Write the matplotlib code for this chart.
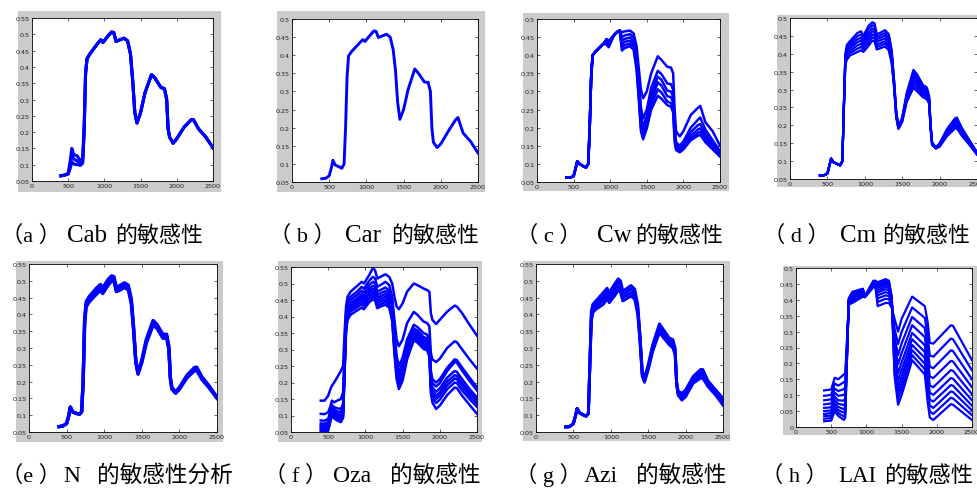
import numpy as np
import matplotlib
matplotlib.use("Agg")
import matplotlib.pyplot as plt
from matplotlib.patches import Rectangle
from matplotlib.ticker import FormatStrFormatter

plt.rcParams['font.family'] = ['Liberation Serif', 'Noto Sans CJK SC']

W, H = 977, 489

# wavelength knots (nm) shared by panels a-g
wl = [400, 450, 500, 530, 550, 580, 620, 670, 700, 720,
      740, 760, 800, 900, 950, 980, 1050, 1100, 1130,
      1160, 1200, 1270, 1320, 1360, 1390, 1420, 1450, 1500, 1560,
      1650, 1700, 1780, 1830, 1860, 1880, 1900, 1950, 2000, 2100,
      2200, 2230, 2300, 2400, 2500]

# (a) Cab: curves differ only in the visible part
cab_refl = [0.066, 0.068, [0.074, 0.072, 0.071], [0.115, 0.100, 0.090],
            [0.150, 0.128, 0.108], [0.130, 0.117, 0.102], [0.128, 0.112, 0.100],
            [0.112, 0.102, 0.098], [0.120, 0.110, 0.105], [0.220, 0.205, 0.195],
            0.380, 0.425, 0.440, 0.470, 0.483, 0.475, 0.495, 0.507, 0.505,
            0.478, 0.482, 0.488, 0.480, 0.440, 0.360, 0.260, 0.228, 0.260, 0.320,
            0.376, 0.365, 0.337, 0.333, 0.300, 0.210, 0.185, 0.166, 0.180, 0.215,
            0.238, 0.238, 0.210, 0.185, 0.152]

# (b) Car
car_refl = [0.059, 0.060, 0.067, 0.090, 0.110, 0.097, 0.093, 0.088, 0.100, 0.200,
            0.340, 0.398, 0.410, 0.432, 0.443, 0.438, 0.455, 0.467, 0.466,
            0.449, 0.452, 0.458, 0.450, 0.415, 0.360, 0.270, 0.223, 0.250, 0.305,
            0.362, 0.350, 0.326, 0.325, 0.300, 0.200, 0.160, 0.145, 0.155, 0.190,
            0.222, 0.228, 0.185, 0.162, 0.130]

# (c) Cw
cw_refl = [0.062, 0.062, 0.066, 0.090, 0.107, 0.100, 0.095, 0.090, 0.100, 0.200,
           0.340, 0.400, 0.410, 0.430,
           [0.445, 0.442, 0.440, 0.437, 0.434, 0.430],
           [0.440, 0.436, 0.432, 0.428, 0.425, 0.422],
           0.455, 0.465, 0.468,
           [0.463, 0.450, 0.440, 0.430, 0.422, 0.413],
           [0.466, 0.455, 0.445, 0.437, 0.428, 0.420],
           [0.468, 0.458, 0.449, 0.440, 0.432, 0.425],
           [0.460, 0.450, 0.440, 0.432, 0.424, 0.415],
           [0.425, 0.405, 0.392, 0.380, 0.370, 0.360],
           [0.365, 0.335, 0.315, 0.300, 0.290, 0.280],
           [0.305, 0.255, 0.230, 0.213, 0.200, 0.190],
           [0.281, 0.225, 0.205, 0.190, 0.178, 0.168],
           [0.300, 0.250, 0.232, 0.220, 0.208, 0.198],
           [0.350, 0.310, 0.290, 0.275, 0.262, 0.250],
           [0.397, 0.357, 0.341, 0.325, 0.306, 0.288],
           [0.387, 0.348, 0.332, 0.316, 0.297, 0.280],
           [0.368, 0.322, 0.302, 0.287, 0.272, 0.262],
           [0.366, 0.320, 0.300, 0.284, 0.268, 0.258],
           [0.350, 0.305, 0.285, 0.270, 0.255, 0.242],
           [0.250, 0.210, 0.195, 0.182, 0.172, 0.162],
           [0.190, 0.160, 0.152, 0.146, 0.142, 0.138],
           [0.176, 0.150, 0.143, 0.138, 0.135, 0.132],
           [0.190, 0.162, 0.155, 0.148, 0.144, 0.140],
           [0.235, 0.200, 0.188, 0.178, 0.170, 0.165],
           [0.255, 0.222, 0.207, 0.195, 0.186, 0.178],
           [0.260, 0.228, 0.210, 0.198, 0.188, 0.180],
           [0.215, 0.195, 0.183, 0.175, 0.167, 0.160],
           [0.190, 0.165, 0.155, 0.148, 0.143, 0.140],
           [0.150, 0.135, 0.128, 0.125, 0.122, 0.120]]

# (d) Cm
cm_refl = [0.060, 0.060, 0.065, 0.090, 0.107, 0.097, 0.093, 0.088, 0.100, 0.250,
           [0.400, 0.395, 0.390, 0.385, 0.380, 0.375, 0.370],
           [0.425, 0.418, 0.411, 0.404, 0.397, 0.390, 0.383],
           [0.435, 0.428, 0.422, 0.415, 0.408, 0.402, 0.395],
           [0.458, 0.449, 0.440, 0.432, 0.423, 0.414, 0.405],
           [0.463, 0.454, 0.445, 0.437, 0.428, 0.419, 0.410],
           [0.450, 0.443, 0.435, 0.428, 0.420, 0.413, 0.405],
           [0.478, 0.469, 0.459, 0.450, 0.441, 0.431, 0.422],
           [0.488, 0.480, 0.471, 0.463, 0.454, 0.446, 0.437],
           [0.485, 0.477, 0.468, 0.460, 0.452, 0.443, 0.435],
           [0.455, 0.448, 0.441, 0.434, 0.426, 0.419, 0.412],
           [0.458, 0.451, 0.444, 0.437, 0.429, 0.422, 0.415],
           [0.466, 0.458, 0.451, 0.443, 0.435, 0.428, 0.420],
           [0.455, 0.448, 0.440, 0.433, 0.425, 0.418, 0.410],
           [0.410, 0.404, 0.397, 0.391, 0.385, 0.378, 0.372],
           [0.330, 0.327, 0.323, 0.320, 0.317, 0.313, 0.310],
           [0.240, 0.237, 0.234, 0.231, 0.228, 0.225, 0.222],
           [0.196, 0.195, 0.194, 0.193, 0.192, 0.191, 0.190],
           [0.222, 0.220, 0.218, 0.216, 0.214, 0.212, 0.210],
           [0.290, 0.286, 0.282, 0.278, 0.273, 0.269, 0.265],
           [0.355, 0.347, 0.338, 0.330, 0.322, 0.313, 0.305],
           [0.342, 0.334, 0.326, 0.319, 0.311, 0.303, 0.295],
           [0.312, 0.306, 0.301, 0.295, 0.289, 0.284, 0.278],
           [0.306, 0.301, 0.295, 0.290, 0.284, 0.279, 0.273],
           [0.282, 0.278, 0.275, 0.271, 0.267, 0.264, 0.260],
           [0.200, 0.198, 0.197, 0.195, 0.193, 0.192, 0.190],
           [0.152, 0.151, 0.150, 0.149, 0.147, 0.146, 0.145],
           [0.138, 0.138, 0.137, 0.137, 0.136, 0.136, 0.135],
           [0.150, 0.148, 0.147, 0.145, 0.143, 0.142, 0.140],
           [0.190, 0.187, 0.183, 0.180, 0.177, 0.173, 0.170],
           [0.218, 0.213, 0.209, 0.204, 0.199, 0.195, 0.190],
           [0.222, 0.217, 0.212, 0.207, 0.202, 0.197, 0.192],
           [0.192, 0.188, 0.185, 0.181, 0.177, 0.174, 0.170],
           [0.158, 0.156, 0.154, 0.152, 0.149, 0.147, 0.145],
           [0.125, 0.124, 0.123, 0.122, 0.120, 0.119, 0.118]]

# (e) N
n_refl = [0.066, 0.068, 0.075, 0.100, 0.124, 0.110, 0.106, 0.103, 0.110, 0.200,
          [0.388, 0.380, 0.372], [0.438, 0.430, 0.422], [0.453, 0.445, 0.437],
          [0.479, 0.470, 0.461], [0.489, 0.480, 0.471], [0.478, 0.470, 0.462],
          [0.504, 0.495, 0.486], [0.515, 0.508, 0.500], [0.512, 0.505, 0.498],
          [0.482, 0.475, 0.468], [0.485, 0.478, 0.471], [0.494, 0.487, 0.480],
          [0.487, 0.480, 0.473], [0.447, 0.440, 0.433], [0.366, 0.360, 0.354],
          [0.264, 0.260, 0.256], [0.228, 0.225, 0.222], [0.264, 0.260, 0.256],
          [0.326, 0.320, 0.314], [0.382, 0.375, 0.368], [0.371, 0.365, 0.359],
          [0.341, 0.335, 0.329], [0.341, 0.335, 0.329], [0.305, 0.300, 0.295],
          [0.213, 0.210, 0.207], [0.183, 0.180, 0.177], [0.169, 0.167, 0.165],
          [0.183, 0.180, 0.177], [0.219, 0.215, 0.211], [0.242, 0.237, 0.232],
          [0.243, 0.238, 0.233], [0.214, 0.210, 0.206], [0.186, 0.183, 0.180],
          [0.154, 0.152, 0.150]]

# (f) Oza
oza_refl = [[0.145, 0.105, 0.085, 0.076, 0.070, 0.065, 0.060, 0.055, 0.050],
            [0.145, 0.104, 0.084, 0.075, 0.069, 0.064, 0.059, 0.054, 0.050],
            [0.160, 0.110, 0.090, 0.080, 0.074, 0.068, 0.063, 0.058, 0.054],
            [0.180, 0.128, 0.115, 0.108, 0.102, 0.097, 0.092, 0.087, 0.082],
            [0.190, 0.145, 0.132, 0.126, 0.120, 0.115, 0.110, 0.105, 0.100],
            [0.200, 0.140, 0.125, 0.117, 0.111, 0.106, 0.101, 0.096, 0.091],
            [0.215, 0.145, 0.122, 0.113, 0.106, 0.100, 0.095, 0.090, 0.085],
            [0.235, 0.150, 0.120, 0.110, 0.101, 0.095, 0.090, 0.085, 0.080],
            [0.250, 0.170, 0.135, 0.125, 0.115, 0.108, 0.103, 0.098, 0.093],
            [0.350, 0.300, 0.270, 0.260, 0.250, 0.245, 0.240, 0.235, 0.230],
            [0.430, 0.415, 0.395, 0.385, 0.378, 0.372, 0.366, 0.360, 0.355],
            [0.460, 0.447, 0.435, 0.425, 0.417, 0.410, 0.403, 0.396, 0.390],
            [0.475, 0.460, 0.450, 0.440, 0.435, 0.430, 0.422, 0.415, 0.405],
            [0.495, 0.478, 0.468, 0.458, 0.452, 0.446, 0.438, 0.430, 0.420],
            [0.505, 0.490, 0.478, 0.468, 0.460, 0.453, 0.445, 0.437, 0.427],
            [0.500, 0.484, 0.472, 0.462, 0.455, 0.448, 0.440, 0.432, 0.422],
            [0.525, 0.508, 0.495, 0.485, 0.477, 0.469, 0.460, 0.452, 0.443],
            [0.547, 0.520, 0.505, 0.493, 0.484, 0.476, 0.468, 0.460, 0.452],
            [0.540, 0.515, 0.500, 0.489, 0.480, 0.472, 0.464, 0.456, 0.448],
            [0.515, 0.490, 0.475, 0.465, 0.456, 0.448, 0.440, 0.432, 0.425],
            [0.520, 0.495, 0.480, 0.470, 0.461, 0.453, 0.445, 0.437, 0.430],
            [0.528, 0.505, 0.488, 0.477, 0.468, 0.460, 0.452, 0.444, 0.436],
            [0.520, 0.495, 0.478, 0.468, 0.459, 0.451, 0.443, 0.435, 0.427],
            [0.500, 0.460, 0.440, 0.428, 0.418, 0.410, 0.402, 0.394, 0.386],
            [0.460, 0.390, 0.355, 0.340, 0.328, 0.318, 0.308, 0.298, 0.288],
            [0.430, 0.330, 0.280, 0.262, 0.250, 0.240, 0.230, 0.220, 0.210],
            [0.422, 0.310, 0.250, 0.232, 0.220, 0.210, 0.200, 0.190, 0.180],
            [0.440, 0.330, 0.275, 0.258, 0.246, 0.236, 0.226, 0.216, 0.206],
            [0.475, 0.380, 0.330, 0.315, 0.305, 0.296, 0.287, 0.278, 0.270],
            [0.500, 0.414, 0.375, 0.364, 0.356, 0.349, 0.342, 0.335, 0.328],
            [0.495, 0.405, 0.368, 0.357, 0.349, 0.342, 0.335, 0.328, 0.321],
            [0.485, 0.385, 0.350, 0.338, 0.330, 0.323, 0.316, 0.309, 0.302],
            [0.480, 0.380, 0.345, 0.333, 0.325, 0.318, 0.311, 0.304, 0.297],
            [0.475, 0.370, 0.330, 0.318, 0.308, 0.300, 0.292, 0.285, 0.278],
            [0.410, 0.290, 0.235, 0.222, 0.210, 0.200, 0.190, 0.180, 0.168],
            [0.390, 0.270, 0.210, 0.198, 0.185, 0.175, 0.165, 0.155, 0.140],
            [0.377, 0.262, 0.200, 0.188, 0.172, 0.160, 0.150, 0.138, 0.120],
            [0.390, 0.272, 0.210, 0.198, 0.182, 0.170, 0.160, 0.148, 0.130],
            [0.415, 0.305, 0.245, 0.235, 0.215, 0.203, 0.192, 0.180, 0.162],
            [0.433, 0.325, 0.270, 0.262, 0.235, 0.222, 0.212, 0.200, 0.185],
            [0.430, 0.322, 0.268, 0.260, 0.232, 0.220, 0.210, 0.198, 0.183],
            [0.410, 0.300, 0.245, 0.236, 0.210, 0.198, 0.188, 0.176, 0.160],
            [0.375, 0.270, 0.215, 0.205, 0.180, 0.170, 0.160, 0.150, 0.132],
            [0.342, 0.242, 0.185, 0.176, 0.155, 0.146, 0.136, 0.126, 0.105]]

# (g) Azi
azi_refl = [0.065, 0.066, 0.075, 0.100, 0.120, 0.108, 0.102, 0.097, 0.105, 0.250,
            [0.410, 0.400, 0.390, 0.380], [0.430, 0.422, 0.413, 0.405],
            [0.440, 0.432, 0.423, 0.415], [0.465, 0.453, 0.442, 0.430],
            [0.478, 0.467, 0.457, 0.446], [0.465, 0.455, 0.445, 0.435],
            [0.490, 0.478, 0.467, 0.455], [0.506, 0.495, 0.483, 0.472],
            [0.500, 0.489, 0.477, 0.466], [0.470, 0.460, 0.450, 0.440],
            [0.475, 0.465, 0.455, 0.445], [0.486, 0.476, 0.465, 0.455],
            [0.475, 0.465, 0.455, 0.445], [0.430, 0.420, 0.410, 0.400],
            [0.340, 0.333, 0.327, 0.320], [0.232, 0.227, 0.222, 0.216],
            [0.210, 0.206, 0.202, 0.198], [0.250, 0.245, 0.240, 0.235],
            [0.310, 0.303, 0.297, 0.290], [0.372, 0.363, 0.355, 0.346],
            [0.356, 0.348, 0.340, 0.332], [0.330, 0.323, 0.317, 0.310],
            [0.325, 0.317, 0.308, 0.300], [0.300, 0.293, 0.287, 0.280],
            [0.200, 0.197, 0.193, 0.190], [0.172, 0.168, 0.164, 0.160],
            [0.165, 0.158, 0.152, 0.145], [0.175, 0.168, 0.162, 0.155],
            [0.215, 0.208, 0.202, 0.195], [0.236, 0.227, 0.219, 0.210],
            [0.236, 0.227, 0.219, 0.210], [0.202, 0.196, 0.191, 0.185],
            [0.176, 0.171, 0.165, 0.160], [0.150, 0.143, 0.137, 0.130]]

# (h) LAI, own wavelength knots
wl_lai = [400, 500, 550, 600, 680, 700, 750, 800, 950, 980, 1100, 1130, 1160,
          1270, 1320, 1360, 1400, 1450, 1500, 1650, 1830, 1870, 1900, 1950,
          2200, 2230, 2500]
lai_refl = [[0.115, 0.098, 0.084, 0.071, 0.060, 0.050, 0.041, 0.034, 0.026, 0.018],
            [0.118, 0.101, 0.087, 0.074, 0.062, 0.052, 0.044, 0.036, 0.028, 0.020],
            [0.155, 0.137, 0.121, 0.108, 0.095, 0.085, 0.075, 0.067, 0.058, 0.050],
            [0.150, 0.130, 0.113, 0.098, 0.084, 0.073, 0.063, 0.053, 0.044, 0.035],
            [0.165, 0.141, 0.119, 0.101, 0.083, 0.069, 0.056, 0.045, 0.033, 0.022],
            [0.170, 0.146, 0.125, 0.107, 0.090, 0.076, 0.064, 0.052, 0.041, 0.030],
            [0.385, 0.388, 0.391, 0.394, 0.396, 0.398, 0.400, 0.402, 0.403, 0.405],
            [0.390, 0.396, 0.401, 0.406, 0.410, 0.413, 0.417, 0.419, 0.422, 0.425],
            [0.410, 0.414, 0.418, 0.421, 0.424, 0.427, 0.429, 0.431, 0.433, 0.435],
            [0.408, 0.409, 0.409, 0.410, 0.410, 0.410, 0.411, 0.411, 0.412, 0.412],
            [0.440, 0.443, 0.446, 0.449, 0.451, 0.453, 0.455, 0.457, 0.458, 0.460],
            [0.438, 0.441, 0.444, 0.447, 0.450, 0.452, 0.454, 0.456, 0.458, 0.460],
            [0.380, 0.393, 0.404, 0.414, 0.423, 0.430, 0.437, 0.443, 0.449, 0.455],
            [0.390, 0.403, 0.414, 0.424, 0.433, 0.440, 0.447, 0.453, 0.459, 0.465],
            [0.390, 0.402, 0.412, 0.421, 0.430, 0.437, 0.443, 0.449, 0.454, 0.460],
            [0.375, 0.381, 0.386, 0.391, 0.395, 0.398, 0.402, 0.404, 0.407, 0.410],
            [0.340, 0.309, 0.282, 0.259, 0.237, 0.219, 0.203, 0.189, 0.174, 0.160],
            [0.300, 0.261, 0.226, 0.197, 0.169, 0.146, 0.125, 0.107, 0.088, 0.070],
            [0.340, 0.299, 0.263, 0.232, 0.203, 0.179, 0.158, 0.138, 0.119, 0.100],
            [0.410, 0.376, 0.346, 0.320, 0.296, 0.276, 0.258, 0.242, 0.226, 0.210],
            [0.380, 0.343, 0.311, 0.283, 0.257, 0.236, 0.217, 0.199, 0.182, 0.165],
            [0.330, 0.288, 0.250, 0.218, 0.188, 0.163, 0.140, 0.120, 0.100, 0.080],
            [0.265, 0.225, 0.190, 0.159, 0.131, 0.108, 0.086, 0.068, 0.049, 0.030],
            [0.262, 0.221, 0.185, 0.154, 0.125, 0.101, 0.080, 0.060, 0.041, 0.022],
            [0.320, 0.278, 0.241, 0.208, 0.179, 0.154, 0.132, 0.112, 0.092, 0.072],
            [0.318, 0.276, 0.239, 0.206, 0.177, 0.152, 0.130, 0.110, 0.090, 0.070],
            [0.210, 0.178, 0.150, 0.125, 0.103, 0.084, 0.067, 0.052, 0.037, 0.022]]

# caption pieces: tag, parameter name, Chinese tail
# (the two tags at the left edge are written a little tighter to stay inside)
cap_tags = ["（a ）", "（ b ）", "（ c ）", "（ d ）", "（e ）", "（ f ）", "（ g ）", "（ h ）"]
cap_names = ["Cab", "Car", "Cw", "Cm", "N", "Oza", "Azi", "LAI"]
cap_tails = ["的敏感性", "的敏感性", "的敏感性", "的敏感性",
             "的敏感性分析", "的敏感性", "的敏感性", "的敏感性"]


def as_table(rows):
    n = max(len(r) if isinstance(r, list) else 1 for r in rows)
    return np.array([r if isinstance(r, list) else [r] * n for r in rows])


# x, data, y range, grey frame px (l, t, r, b), axes px, line width
panels = [
    (wl, cab_refl, (0.05, 0.55), (18, 12, 221, 193), (32, 19, 213, 182), 2.2),
    (wl, car_refl, (0.05, 0.50), (277, 12, 485, 193), (292, 20, 478, 183), 2.1),
    (wl, cw_refl, (0.05, 0.50), (523, 14, 729, 192), (537, 20, 720, 183), 1.8),
    (wl, cm_refl, (0.05, 0.50), (777, 16, 977, 188), (790, 19, 977, 180), 1.6),
    (wl, n_refl, (0.05, 0.55), (16, 262, 223, 443), (29, 265, 217, 433), 2.4),
    (wl, oza_refl, (0.05, 0.55), (278, 262, 482, 443), (291, 268, 477, 433), 1.8),
    (wl, azi_refl, (0.05, 0.55), (523, 262, 730, 442), (536, 265, 723, 433), 2.1),
    (wl_lai, lai_refl, (0.0, 0.50), (783, 267, 977, 436), (796, 269, 972, 428), 1.6),
]

# caption layout px: text left x, name left x, tail right x, baseline y,
# latin size, CJK size
cap_pos = [(1, 67, 203, 242, 18, 15.8), (269, 345, 479, 242, 18, 15.8),
           (516, 597, 723, 242, 18, 15.8), (763, 840, 970, 242, 18, 15.8),
           (1, 63, 233, 482, 17, 16.3), (264, 333, 480, 482, 17, 16.3),
           (515, 584, 726, 482, 17, 16.3), (761, 838, 973, 482, 16.5, 16.0)]

fig = plt.figure(figsize=(W / 100, H / 100), dpi=100)
fig.patch.set_facecolor('white')

for i, (x, refl, ylim, frame, box, lw) in enumerate(panels):
    fl, ft, fr, fb = frame
    fig.add_artist(Rectangle((fl / W, 1 - fb / H), (fr - fl) / W, (fb - ft) / H,
                             transform=fig.transFigure, facecolor='#cbcbcb',
                             edgecolor='none', zorder=-1))
    l, t, r, b = box
    ax = fig.add_axes([l / W, 1 - b / H, (r - l) / W, (b - t) / H])
    ax.plot(x, as_table(refl), color='#0000ff', lw=lw, solid_joinstyle='round')
    ax.set_xlim(0, 2500)
    ax.set_ylim(*ylim)
    ax.set_xticks(range(0, 2501, 500))
    ax.set_yticks(np.arange(ylim[0], ylim[1] + 0.001, 0.05))
    ax.yaxis.set_major_formatter(FormatStrFormatter('%g'))
    ax.tick_params(direction='in', length=2.5, width=0.5, labelsize=4.6, pad=1.5,
                   top=True, right=True, labelfontfamily='DejaVu Sans', colors='#222222')
    for s in ax.spines.values():
        s.set_linewidth(0.6)

    tag_x, name_x, tail_x, base_y, lat, cjk = cap_pos[i]
    yb = 1 - base_y / H
    fig.text(tag_x / W, yb, cap_tags[i], fontsize=16, ha='left', va='baseline')
    fig.text(name_x / W, yb, cap_names[i], fontsize=lat, ha='left', va='baseline')
    fig.text(tail_x / W, yb, cap_tails[i], fontsize=cjk, ha='right', va='baseline')

fig.savefig('out.png', dpi=100)
